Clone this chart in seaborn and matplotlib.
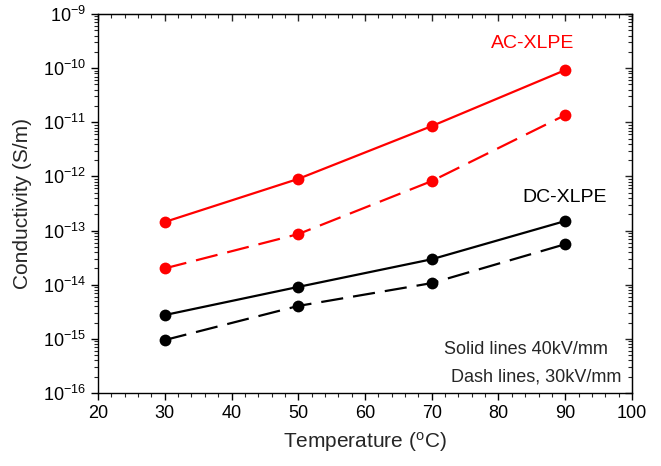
import matplotlib
matplotlib.use("Agg")
import matplotlib.pyplot as plt
import matplotlib.ticker as mticker
import seaborn as sns
import pandas as pd
import numpy as np

temperature = [30, 50, 70, 90]
ac_40 = [1.44e-13, 9.0e-13, 8.5e-12, 9.2e-11]
ac_30 = [2.0e-14, 8.6e-14, 8.2e-13, 1.36e-11]
dc_40 = [2.75e-15, 9.1e-15, 2.95e-14, 1.5e-13]
dc_30 = [9.5e-16, 4.05e-15, 1.07e-14, 5.6e-14]

rows = []
for mat, field, vals in [("AC-XLPE", "40", ac_40), ("AC-XLPE", "30", ac_30),
                         ("DC-XLPE", "40", dc_40), ("DC-XLPE", "30", dc_30)]:
    for t, v in zip(temperature, vals):
        rows.append({"T": t, "sigma": v, "mat": mat, "field": field})
df = pd.DataFrame(rows)

sns.set_style("ticks")
plt.rcParams['font.family'] = ['Liberation Sans', 'DejaVu Sans']
plt.rcParams['mathtext.fontset'] = 'custom'
plt.rcParams['mathtext.rm'] = 'Liberation Sans'
plt.rcParams['mathtext.it'] = 'Liberation Sans'

fig = plt.figure(figsize=(6.61, 4.66), dpi=100)
ax = fig.add_axes([0.1483, 0.1567, 0.9561 - 0.1483, 0.97 - 0.1567])

sns.lineplot(data=df, x="T", y="sigma", hue="mat", style="field",
             palette={"AC-XLPE": "#ff0000", "DC-XLPE": "black"},
             dashes={"40": "", "30": (10, 4.5)},
             markers={"40": "o", "30": "o"}, markersize=8.5,
             markeredgewidth=0, linewidth=1.6, legend=False, ax=ax)

ax.set_yscale("log")
ax.set_xlim(20, 100)
ax.set_ylim(1e-16, 1e-9)
ax.xaxis.set_major_locator(mticker.MultipleLocator(10))
ax.xaxis.set_minor_locator(mticker.MultipleLocator(2))
ax.yaxis.set_major_locator(mticker.LogLocator(base=10, numticks=20))
ax.yaxis.set_minor_locator(mticker.LogLocator(base=10, subs=np.arange(2, 10), numticks=20))
ax.yaxis.set_minor_formatter(mticker.NullFormatter())

for s in ax.spines.values():
    s.set_visible(True)
    s.set_linewidth(1.0)
    s.set_color("black")

ax.tick_params(axis="both", which="major", direction="out", length=5, width=1, labelsize=13, colors="black")
ax.tick_params(axis="both", which="minor", direction="out", length=3, width=0.8)
ax2 = ax.secondary_xaxis("top")
ax2.set_xticks(np.arange(20, 101, 10))
ax2.xaxis.set_minor_locator(mticker.MultipleLocator(2))
ax2.tick_params(which="major", direction="in", length=5, width=1, labeltop=False)
ax2.tick_params(which="minor", direction="in", length=3, width=0.8)
ax3 = ax.secondary_yaxis("right")
ax3.set_yscale("log")
ax3.yaxis.set_major_locator(mticker.LogLocator(base=10, numticks=20))
ax3.yaxis.set_minor_locator(mticker.LogLocator(base=10, subs=np.arange(2, 10), numticks=20))
ax3.tick_params(which="major", direction="in", length=5, width=1, labelright=False)
ax3.tick_params(which="minor", direction="in", length=3, width=0.8)

ax.set_xlabel("Temperature ($\\mathregular{^{o}}$C)", fontsize=15, labelpad=6)
ax.set_ylabel("Conductivity (S/m)", fontsize=15, labelpad=8)

fig.text(533 / 661, 1 - 43 / 466, "AC-XLPE", color="#ff0000", fontsize=14, ha="center", va="center")
fig.text(565 / 661, 1 - 198 / 466, "DC-XLPE", color="black", fontsize=14, ha="center", va="center")
fig.text(608 / 661, 1 - 350 / 466, "Solid lines 40kV/mm", fontsize=13, ha="right", va="center")
fig.text(621 / 661, 1 - 377 / 466, "Dash lines, 30kV/mm", fontsize=13, ha="right", va="center")

fig.savefig("out.png", dpi=100)
